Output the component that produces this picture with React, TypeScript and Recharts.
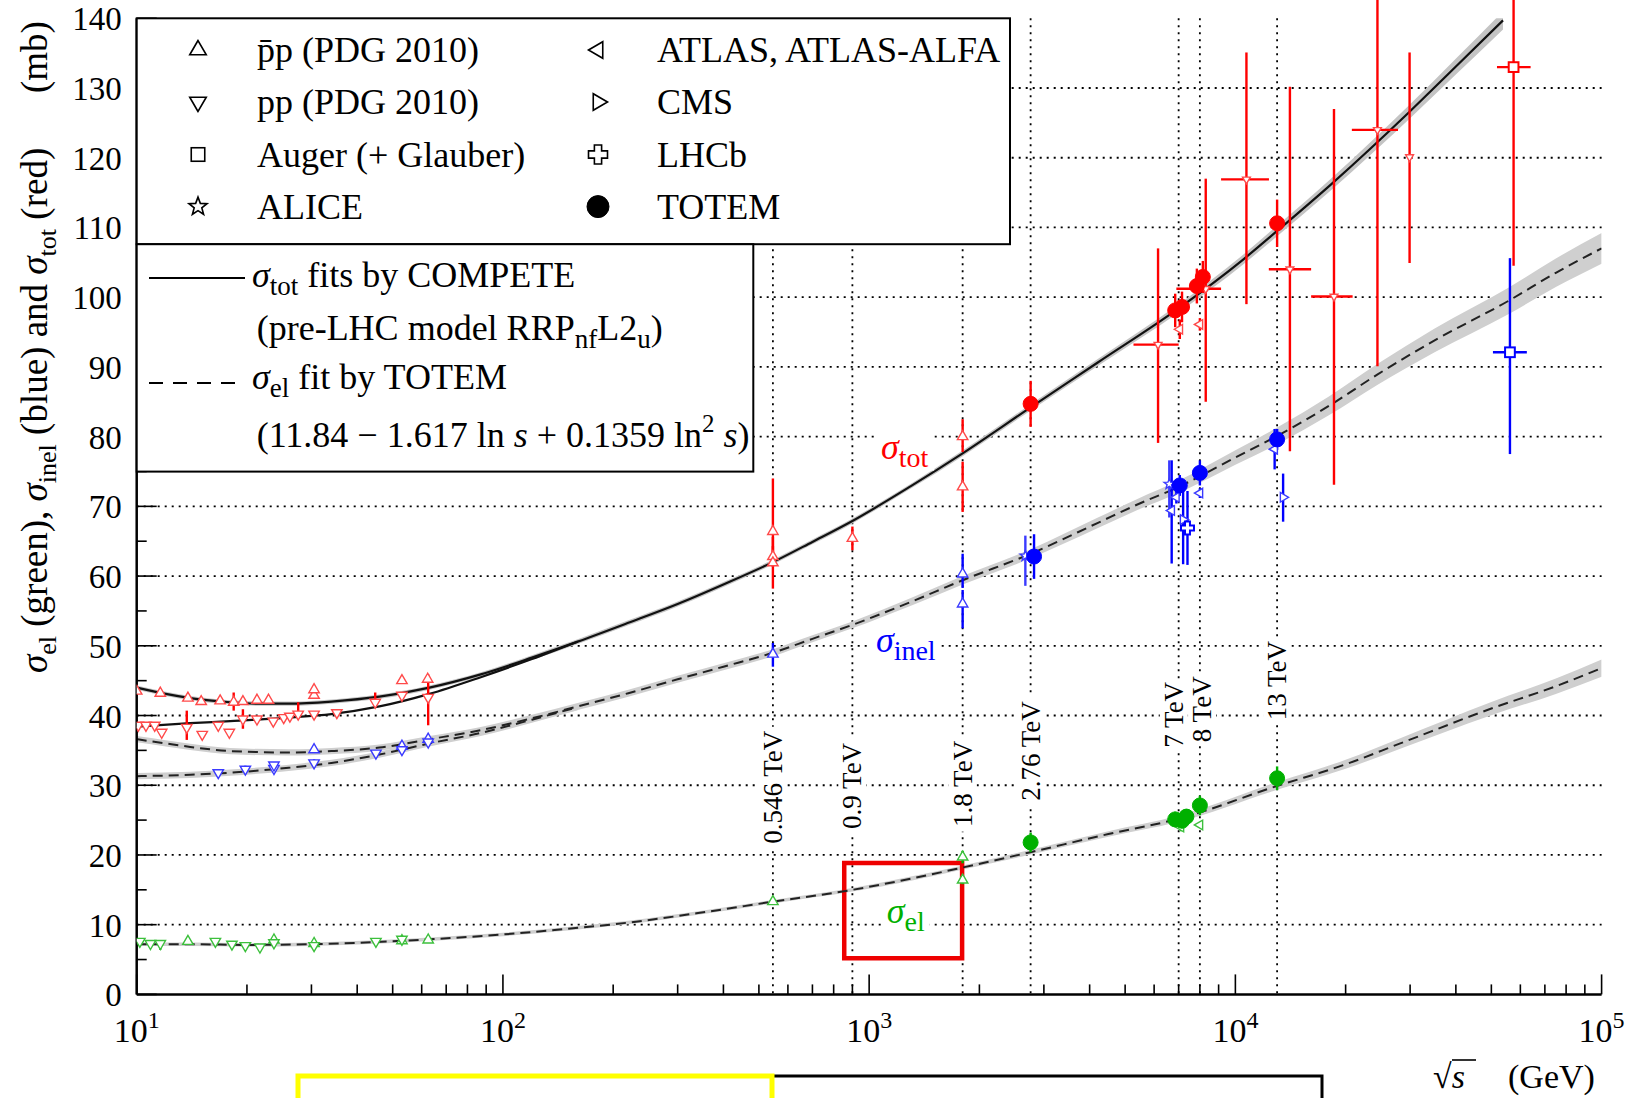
import React from "react";
import {
  ComposedChart, XAxis, YAxis, Line, Area, Scatter, ErrorBar,
  CartesianGrid, ReferenceDot, ReferenceArea,
} from "recharts";

const W = 1636;
const H = 1098;
const FONT = "'Liberation Serif','Times New Roman',serif";
const RED = "#ff0000";
const BLUE = "#0000ff";
const GREEN = "#00b000";
const PRED = "#ff4a4a";
const PBLUE = "#3a3aff";
const PGREEN = "#3cc03c";

// ---------- axes ----------
const xTicks = [10, 20, 30, 40, 50, 60, 70, 80, 90, 100, 200, 300, 400, 500, 600, 700, 800, 900,
  1000, 2000, 3000, 4000, 5000, 6000, 7000, 8000, 9000, 10000, 20000, 30000, 40000, 50000, 60000,
  70000, 80000, 90000, 100000];
const yTicks = [0, 5, 10, 15, 20, 25, 30, 35, 40, 45, 50, 55, 60, 65, 70, 75, 80, 85, 90, 95, 100,
  105, 110, 115, 120, 125, 130, 135, 140];
const gridY = [10, 20, 30, 40, 50, 60, 70, 80, 90, 100, 110, 120, 130];
const energyLines = [546, 900, 1800, 2760, 7000, 8000, 13000];

// ---------- fitted curves [sqrt(s) GeV, mb] ----------
const totPbarpCurve = [[10, 44.0], [12, 43.1], [14, 42.5], [18, 41.9], [22, 41.7], [26, 41.7], [34, 42.0],
  [46, 42.7], [63, 44.0], [87, 45.9], [120, 48.3], [160, 50.6], [220, 53.3], [300, 56.0], [400, 58.8],
  [546, 62.0], [700, 64.9], [900, 67.9], [1300, 72.9], [1800, 77.6], [2760, 84.2], [4200, 90.6],
  [7000, 98.4], [10500, 105.4], [13000, 109.5], [18450, 116.4], [29900, 126.6], [40600, 133.4],
  [53800, 139.7]];
const totBandHalf = [0.3, 0.3, 0.3, 0.3, 0.3, 0.3, 0.3, 0.3, 0.3, 0.3, 0.35, 0.35, 0.35, 0.35, 0.35,
  0.35, 0.35, 0.35, 0.35, 0.4, 0.45, 0.5, 0.6, 0.7, 0.75, 0.85, 1.0, 1.15, 1.3];
const totPpCurve = [[10, 38.4], [14, 38.9], [18, 39.2], [26, 39.7], [34, 40.2], [46, 41.3], [63, 43.1],
  [87, 45.5], [120, 48.1], [160, 50.6]];

const inelPbarpCurve = [[10, 36.6], [12, 36.0], [14, 35.5], [18, 34.9], [26, 34.7], [34, 34.9], [46, 35.4],
  [63, 36.6], [87, 37.9], [120, 39.6], [160, 41.3], [220, 43.2], [300, 45.2], [400, 47.0], [546, 49.0],
  [700, 51.0], [900, 53.0], [1300, 56.3], [1800, 59.4], [2760, 63.2], [4200, 67.6], [5420, 70.3],
  [7000, 72.8], [10000, 77.0], [13000, 80.1], [18000, 84.4], [24400, 88.9], [35000, 93.8],
  [55800, 99.5], [75000, 103.5], [100000, 107.0]];
const inelBandHalf = [0.45, 0.45, 0.45, 0.45, 0.45, 0.45, 0.45, 0.45, 0.45, 0.5, 0.5, 0.5, 0.5, 0.5, 0.5,
  0.5, 0.5, 0.55, 0.6, 0.65, 0.75, 0.8, 0.9, 1.05, 1.2, 1.35, 1.5, 1.7, 1.9, 2.05, 2.2];
const inelPpCurve = [[10, 31.3], [14, 31.5], [18, 31.8], [26, 32.5], [34, 33.2], [46, 34.4], [63, 36.0],
  [87, 37.5], [120, 39.4], [160, 41.2]];
const inelPpBandHalf = [0.45, 0.45, 0.45, 0.45, 0.45, 0.45, 0.45, 0.45, 0.45, 0.45];

const elCurve = [[10, 7.2], [14, 7.2], [20, 7.1], [30, 7.2], [45, 7.5], [63, 7.9], [100, 8.6], [150, 9.4],
  [220, 10.3], [345, 11.7], [546, 13.3], [900, 15.0], [1300, 16.6], [1800, 18.2], [2760, 20.4],
  [4500, 23.0], [7000, 25.2], [13000, 29.9], [20000, 33.0], [28200, 36.0], [50000, 41.0],
  [75000, 44.2], [100000, 46.8]];
const elBandHalf = [0.25, 0.25, 0.25, 0.25, 0.25, 0.25, 0.25, 0.25, 0.25, 0.25, 0.25, 0.25, 0.3, 0.3,
  0.35, 0.4, 0.45, 0.55, 0.65, 0.75, 0.95, 1.1, 1.25];

// ---------- measurements [x, y, errLow, errHigh, xErrLow, xErrHigh] ----------
const pbarpTot = [[10.0, 43.5], [11.6, 43.2], [13.8, 42.5], [15.0, 42.0], [16.9, 42.1], [18.4, 41.9, 1.2, 1.4],
  [19.5, 42.0], [21.3, 42.2], [22.9, 42.2], [30.5, 42.9], [30.5, 43.7], [53, 45.0], [62.3, 45.2],
  [546, 66.4, 4.0, 7.6], [546, 62.8, 1.5, 1.5], [546, 61.9, 3.7, 3.7], [900, 65.4, 1.7, 1.7],
  [1800, 80.0, 2.2, 2.5], [1800, 72.8, 3.6, 3.6]];
const ppTot = [[10.1, 38.6], [10.6, 38.6], [11.2, 38.6], [11.7, 37.6], [13.7, 38.3, 1.8, 2.4], [15.1, 37.3],
  [16.7, 38.6], [17.9, 37.6], [19.5, 39.5, 1.4, 1.4], [21.3, 39.5], [23.6, 39.2], [25.2, 39.7], [26.2, 39.9],
  [27.6, 40.2, 0.6, 1.7], [30.5, 40.2], [35.2, 40.4], [44.8, 41.9, 0.4, 1.4], [53, 42.9], [62.5, 42.6, 4.0, 3.3]];
const cosmicTot = [[6150, 93.2, 14.1, 13.8, 880, 850], [8300, 101.2, 16.2, 15.8, 1400, 840],
  [10720, 116.9, 17.9, 18.2, 1580, 1630], [14090, 104.0, 26.1, 26.2, 1750, 2010],
  [18590, 100.1, 27.0, 26.9, 2490, 2310], [24430, 124.0, 33.9, 20.0, 3630, 3370],
  [29900, 120.1, 15.2, 15.0, 0, 0]];
const pbarpInel = [[30.5, 35.1], [53, 35.6], [62.5, 36.6], [546, 48.8, 1.8, 1.6], [1800, 60.3, 2.0, 2.9],
  [1800, 56.0, 3.5, 2.0]];
const ppInel = [[16.7, 31.8], [19.8, 32.3, 0.5, 0.5], [23.7, 32.4, 0.6, 0.6], [23.7, 32.9],
  [30.5, 33.2, 0.5, 0.5], [45, 34.6], [53, 35.1], [62.5, 36.2]];
const pbarpEl = [[13.8, 7.6], [23.7, 7.8], [30.5, 7.3], [53, 7.7], [62.5, 7.8], [546, 13.3, 0.3, 0.3],
  [1800, 19.7, 0.9, 0.9], [1800, 16.4, 0.6, 0.6]];
const ppEl = [[10.2, 7.6], [10.9, 7.3], [11.6, 7.3, 0.9, 0.3], [16.4, 7.6], [18.2, 7.2], [19.8, 7.0],
  [21.7, 6.8], [23.7, 7.4], [30.5, 7.0], [45, 7.6], [53, 7.9]];
const augerTot = [[57500, 133.0, 28.5, 10, 5700, 6500]];
const augerInel = [[56200, 92.1, 14.6, 13.5, 5700, 6300]];
const aliceInel = [[2670, 62.9, 4.3, 2.9], [6600, 73.2, 4.8, 3.4]];
const atlasTot = [[7050, 95.4, 1.4, 1.4], [8000, 96.1, 0.9, 0.9]];
const atlasInel = [[6700, 69.4, 7.6, 7.2], [6900, 71.3, 0.9, 0.9], [8000, 71.9, 0.7, 0.7], [12800, 78.2, 2.9, 2.9]];
const atlasEl = [[7100, 24.0, 0.6, 0.6], [8000, 24.3, 0.4, 0.4]];
const cmsInel = [[7200, 68.1, 6.4, 4.2], [13500, 71.3, 3.5, 3.4]];
const lhcbInel = [[7400, 66.9, 5.3, 5.3]];
const totemTot = [[2760, 84.7, 3.3, 3.3], [6850, 98.1, 2.4, 2.4], [7150, 98.6, 2.2, 2.2],
  [7850, 101.6, 2.5, 2.5], [8150, 102.9, 2.3, 2.3], [13000, 110.6, 3.4, 3.4]];
const totemInel = [[2820, 62.8, 3.2, 3.2], [7050, 73.0, 1.5, 1.5], [8000, 74.8, 1.8, 1.8], [13000, 79.6, 1.5, 1.5]];
const totemEl = [[2760, 21.8, 1.4, 1.4], [6850, 25.1, 1.1, 1.1], [7150, 24.9, 1.0, 1.0],
  [7350, 25.5, 1.1, 1.1], [8000, 27.1, 1.4, 1.4], [13000, 31.0, 1.7, 1.7]];

// ---------- annotations (data-space anchors) ----------
const energyLabels = [
  { x: 546, y: 29.7, text: "0.546 TeV" },
  { x: 900, y: 29.9, text: "0.9 TeV" },
  { x: 1800, y: 30.2, text: "1.8 TeV" },
  { x: 2760, y: 34.9, text: "2.76 TeV" },
  { x: 6790, y: 40.1, text: "7 TeV" },
  { x: 8110, y: 40.9, text: "8 TeV" },
  { x: 13000, y: 45.0, text: "13 TeV" },
];
const sigmaLabels = [
  { x: 1250, y: 78.0, sub: "tot", color: RED },
  { x: 1259, y: 50.3, sub: "inel", color: BLUE },
  { x: 1259, y: 11.4, sub: "el", color: GREEN },
];
const highlightBox = { x1: 855, x2: 1794, y1: 5.2, y2: 18.85 };

// ---------- builders ----------
const toCurve = (a: number[][]) => a.map(([x, y]) => ({ x, y }));
const toBand = (a: number[][], hw: number[]) => a.map(([x, y], i) => ({ x, band: [y - hw[i], y + hw[i]] }));
const toPts = (a: number[][]) =>
  a.map(([x, y, lo = 0, hi = lo, xlo = 0, xhi = xlo]) => ({ x, y, ey: [lo, hi], ex: [xlo, xhi] }));

function Mark({ kind, cx, cy, s, color, sw = 1.4, fill = "#fff" }: any) {
  if (cx == null || cy == null || isNaN(cx) || isNaN(cy)) return null;
  const c = { stroke: color, strokeWidth: sw, fill };
  const pts = (arr: number[][]) => arr.map(([a, b]) => `${cx + a},${cy + b}`).join(" ");
  switch (kind) {
    case "up":
      return <polygon points={pts([[0, -s], [-0.87 * s, 0.5 * s], [0.87 * s, 0.5 * s]])} {...c} />;
    case "down":
      return <polygon points={pts([[0, s], [-0.87 * s, -0.5 * s], [0.87 * s, -0.5 * s]])} {...c} />;
    case "left":
      return <polygon points={pts([[-s, 0], [0.5 * s, -0.87 * s], [0.5 * s, 0.87 * s]])} {...c} />;
    case "right":
      return <polygon points={pts([[s, 0], [-0.5 * s, -0.87 * s], [-0.5 * s, 0.87 * s]])} {...c} />;
    case "square":
      return <rect x={cx - 0.75 * s} y={cy - 0.75 * s} width={1.5 * s} height={1.5 * s} {...c} />;
    case "star": {
      const arr: number[][] = [];
      for (let i = 0; i < 10; i++) {
        const r = i % 2 === 0 ? s : s * 0.42;
        const a = -Math.PI / 2 + (i * Math.PI) / 5;
        arr.push([r * Math.cos(a), r * Math.sin(a)]);
      }
      return <polygon points={pts(arr)} {...c} />;
    }
    case "cross": {
      const w = s * 0.38;
      return <polygon points={pts([[-w, -s], [w, -s], [w, -w], [s, -w], [s, w], [w, w], [w, s], [-w, s], [-w, w], [-s, w], [-s, -w], [-w, -w]])} {...c} />;
    }
    case "circle":
      return <circle cx={cx} cy={cy} r={s} fill={color} stroke={color} strokeWidth={1} />;
    default:
      return null;
  }
}

const isDecade = (v: number) => Math.abs(Math.log10(v) - Math.round(Math.log10(v))) < 1e-6;

function BottomTick(props: any) {
  const { x, y, payload } = props;
  const v = payload.value;
  const major = isDecade(v);
  return (
    <g>
      <line x1={x} x2={x} y1={y} y2={y - (major ? 20 : 10)} stroke="#000" strokeWidth={1.6} />
      {major && (
        <text x={x} y={y + 48} textAnchor="middle" fontFamily={FONT} fontSize={34} fill="#000">
          10<tspan fontSize={24} dy={-14}>{Math.round(Math.log10(v))}</tspan>
        </text>
      )}
    </g>
  );
}
function TopTick(props: any) {
  const { x, y, payload } = props;
  const major = isDecade(payload.value);
  return <line x1={x} x2={x} y1={y} y2={y + (major ? 20 : 10)} stroke="#000" strokeWidth={1.6} />;
}
function LeftTick(props: any) {
  const { x, y, payload } = props;
  const v = payload.value;
  const major = v % 10 === 0;
  return (
    <g>
      <line x1={x} x2={x + (major ? 20 : 10)} y1={y} y2={y} stroke="#000" strokeWidth={1.6} />
      {major && (
        <text x={x - 15} y={y + 12} textAnchor="end" fontFamily={FONT} fontSize={33} fill="#000">{v}</text>
      )}
    </g>
  );
}
function RightTick(props: any) {
  const { x, y, payload } = props;
  const major = payload.value % 10 === 0;
  return <line x1={x} x2={x - (major ? 20 : 10)} y1={y} y2={y} stroke="#000" strokeWidth={1.6} />;
}

const rotLabel = (text: string) => (p: any) => {
  const { cx, cy } = p;
  const len = text.length * 12.8;
  return (
    <g>
      <rect x={cx - 14} y={cy - len / 2 - 3} width={28} height={len + 6} fill="#fff" />
      <text transform={`translate(${cx + 9},${cy}) rotate(-90)`} textAnchor="middle" fontFamily={FONT} fontSize={27} fill="#000">
        {text}
      </text>
    </g>
  );
};
const sigmaLabel = (sub: string, color: string) => (p: any) => {
  const { cx, cy } = p;
  const w = 20 + sub.length * 11;
  return (
    <g>
      <rect x={cx - w / 2 - 3} y={cy - 18} width={w + 6} height={38} fill="#fff" />
      <text x={cx} y={cy + 8} textAnchor="middle" fontFamily={FONT} fill={color}>
        <tspan fontStyle="italic" fontSize={36}>σ</tspan>
        <tspan fontSize={28} dy={8}>{sub}</tspan>
      </text>
    </g>
  );
};

function series(key: string, raw: number[][], kind: string, color: string, s: number, opts: any = {}) {
  const data = toPts(raw);
  const ebColor = opts.ebColor || color;
  return (
    <Scatter
      key={key}
      data={data}
      dataKey="y"
      isAnimationActive={false}
      shape={(p: any) => <Mark kind={kind} cx={p.cx} cy={p.cy} s={s} color={color} sw={opts.sw ?? 1.4} />}
    >
      <ErrorBar dataKey="ey" direction="y" width={0} stroke={ebColor} strokeWidth={opts.ew ?? 2.4} isAnimationActive={false} />
      {opts.xerr && (
        <ErrorBar dataKey="ex" direction="x" width={0} stroke={ebColor} strokeWidth={opts.ew ?? 2.4} isAnimationActive={false} />
      )}
    </Scatter>
  );
}

function Legends() {
  const rows = [
    ["up", "p\u0304p (PDG 2010)", "left", "ATLAS, ATLAS-ALFA"],
    ["down", "pp (PDG 2010)", "right", "CMS"],
    ["square", "Auger (+ Glauber)", "cross", "LHCb"],
    ["star", "ALICE", "circle", "TOTEM"],
  ];
  const rowY = [50, 102, 154.5, 206.6];
  const txt = { fontFamily: FONT, fontSize: 36, fill: "#000" } as any;
  return (
    <svg width={W} height={H} style={{ position: "absolute", left: 0, top: 0, pointerEvents: "none" }}>
      {/* marker legend */}
      <rect x={136.7} y={18.3} width={873.3} height={225.9} fill="#fff" stroke="#000" strokeWidth={2} />
      {rows.map((r, i) => (
        <g key={i}>
          <Mark kind={r[0]} cx={198} cy={rowY[i]} s={r[0] === "square" ? 9 : 9.5} color="#000" sw={1.6} />
          <text x={257} y={rowY[i] + 12} {...txt}>{r[1]}</text>
          <Mark kind={r[2]} cx={598} cy={rowY[i]} s={r[2] === "circle" ? 11 : 9.5} color="#000" sw={1.6} />
          <text x={657} y={rowY[i] + 12} {...txt}>{r[3]}</text>
        </g>
      ))}
      {/* line legend */}
      <rect x={136.7} y={244.2} width={616.6} height={227.4} fill="#fff" stroke="#000" strokeWidth={2} />
      <line x1={149} x2={245} y1={278} y2={278} stroke="#000" strokeWidth={2} />
      <line x1={149} x2={245} y1={383} y2={383} stroke="#000" strokeWidth={2} strokeDasharray="14 10" />
      <text x={252} y={287} {...txt}>
        <tspan fontStyle="italic">σ</tspan><tspan fontSize={27} dy={8}>tot</tspan><tspan dy={-8}> fits by COMPETE</tspan>
      </text>
      <text x={256.7} y={340} {...txt}>
        (pre-LHC model RRP<tspan fontSize={27} dy={8}>nf</tspan><tspan dy={-8}>L2</tspan><tspan fontSize={27} dy={8}>u</tspan><tspan dy={-8}>)</tspan>
      </text>
      <text x={252} y={389} {...txt}>
        <tspan fontStyle="italic">σ</tspan><tspan fontSize={27} dy={8}>el</tspan><tspan dy={-8}> fit by TOTEM</tspan>
      </text>
      <text x={256.7} y={447} {...txt}>
        (11.84 − 1.617 ln <tspan fontStyle="italic">s</tspan> + 0.1359 ln<tspan fontSize={25} dy={-15}>2</tspan><tspan dy={15}> </tspan><tspan fontStyle="italic">s</tspan>)
      </text>

      {/* y axis title */}
      <text transform="translate(47,673) rotate(-90)" fontFamily={FONT} fontSize={37} fill="#000">
        <tspan fontStyle="italic">σ</tspan><tspan fontSize={26} dy={9}>el</tspan>
        <tspan dy={-9}> (green), </tspan>
        <tspan fontStyle="italic">σ</tspan><tspan fontSize={26} dy={9}>inel</tspan>
        <tspan dy={-9}> (blue) and </tspan>
        <tspan fontStyle="italic">σ</tspan><tspan fontSize={26} dy={9}>tot</tspan>
        <tspan dy={-9}> (red)</tspan>
      </text>
      <text transform="translate(47,93) rotate(-90)" fontFamily={FONT} fontSize={37} fill="#000">(mb)</text>

      {/* x axis title */}
      <text x={1433} y={1088} fontFamily={FONT} fontSize={34} fill="#000">
        √<tspan fontStyle="italic">s</tspan>
      </text>
      <line x1={1452} x2={1476} y1={1060} y2={1060} stroke="#000" strokeWidth={1.6} />
      <text x={1508} y={1088} fontFamily={FONT} fontSize={34} fill="#000">(GeV)</text>

      {/* cropped boxes at the bottom edge */}
      <path d="M772,1076 H1322 V1110" fill="none" stroke="#000" strokeWidth={3} />
      <rect x={298} y={1076} width={474} height={60} fill="none" stroke="#ffff00" strokeWidth={5} />
    </svg>
  );
}

export default function App() {
  const curveLine = { isAnimationActive: false, dot: false, activeDot: false, type: "monotone" as const, dataKey: "y" };
  return (
    <div style={{ position: "absolute", left: 0, top: 0, width: W, height: H, background: "#fff", overflow: "hidden" }}>
      <ComposedChart width={W} height={H} margin={{ top: 18.3, right: 34.4, bottom: 43.6, left: 56.7 }}>
        <CartesianGrid horizontalValues={gridY} verticalValues={energyLines} stroke="#000"
          strokeDasharray="2 5" strokeWidth={1.8} />
        <XAxis dataKey="x" type="number" scale="log" domain={[10, 100000]} allowDataOverflow ticks={xTicks}
          interval={0} tick={BottomTick} tickLine={false} tickSize={0} tickMargin={0}
          axisLine={{ stroke: "#000", strokeWidth: 2.5 }} height={60} />
        <XAxis xAxisId="t" orientation="top" dataKey="x" type="number" scale="log" domain={[10, 100000]}
          allowDataOverflow ticks={xTicks} interval={0} tick={TopTick} tickLine={false} tickSize={0}
          tickMargin={0} axisLine={{ stroke: "#000", strokeWidth: 2.5 }} height={0} />
        <YAxis dataKey="y" type="number" domain={[0, 140]} allowDataOverflow ticks={yTicks} interval={0}
          tick={LeftTick} tickLine={false} tickSize={0} tickMargin={0}
          axisLine={{ stroke: "#000", strokeWidth: 2.5 }} width={80} />
        <YAxis yAxisId="r" orientation="right" type="number" domain={[0, 140]} allowDataOverflow ticks={yTicks}
          interval={0} tick={RightTick} tickLine={false} tickSize={0} tickMargin={0}
          axisLine={{ stroke: "#000", strokeWidth: 2.5 }} width={0} />

        {/* uncertainty bands */}
        <Area data={toBand(totPbarpCurve, totBandHalf)} dataKey="band" type="monotone" stroke="none" fill="#c4c4c4" fillOpacity={1} isAnimationActive={false} activeDot={false} />
        <Area data={toBand(inelPbarpCurve, inelBandHalf)} dataKey="band" type="monotone" stroke="none" fill="#cfcfcf" fillOpacity={1} isAnimationActive={false} activeDot={false} />
        <Area data={toBand(inelPpCurve, inelPpBandHalf)} dataKey="band" type="monotone" stroke="none" fill="#cfcfcf" fillOpacity={1} isAnimationActive={false} activeDot={false} />
        <Area data={toBand(elCurve, elBandHalf)} dataKey="band" type="monotone" stroke="none" fill="#cfcfcf" fillOpacity={1} isAnimationActive={false} activeDot={false} />

        {/* fit curves */}
        <Line data={toCurve(totPbarpCurve)} {...curveLine} stroke="#111" strokeWidth={2.2} />
        <Line data={toCurve(totPpCurve)} {...curveLine} stroke="#111" strokeWidth={2.2} />
        <Line data={toCurve(inelPbarpCurve)} {...curveLine} stroke="#222" strokeWidth={2} strokeDasharray="10 6" />
        <Line data={toCurve(inelPpCurve)} {...curveLine} stroke="#222" strokeWidth={2} strokeDasharray="10 6" />
        <Line data={toCurve(elCurve)} {...curveLine} stroke="#222" strokeWidth={2} strokeDasharray="10 6" />

        {/* measurements */}
        {series("pbarpTot", pbarpTot, "up", PRED, 6, { ebColor: RED })}
        {series("ppTot", ppTot, "down", PRED, 6, { ebColor: RED })}
        {series("cosmicTot", cosmicTot, "down", PRED, 4.5, { ebColor: RED, xerr: true })}
        {series("pbarpInel", pbarpInel, "up", PBLUE, 6, { ebColor: BLUE })}
        {series("ppInel", ppInel, "down", PBLUE, 6, { ebColor: BLUE })}
        {series("pbarpEl", pbarpEl, "up", PGREEN, 6, { ebColor: GREEN })}
        {series("ppEl", ppEl, "down", PGREEN, 6, { ebColor: GREEN })}
        {series("augerTot", augerTot, "square", RED, 6.5, { xerr: true, sw: 2 })}
        {series("augerInel", augerInel, "square", BLUE, 6.5, { xerr: true, sw: 2 })}
        {series("aliceInel", aliceInel, "star", PBLUE, 5.5)}
        {series("atlasTot", atlasTot, "left", PRED, 5.5, { ebColor: RED })}
        {series("atlasInel", atlasInel, "left", PBLUE, 5.5, { ebColor: BLUE })}
        {series("atlasEl", atlasEl, "left", PGREEN, 5.5, { ebColor: GREEN })}
        {series("cmsInel", cmsInel, "right", PBLUE, 5.5, { ebColor: BLUE })}
        {series("lhcbInel", lhcbInel, "cross", BLUE, 6.5, { sw: 2 })}
        {series("totemTot", totemTot, "circle", RED, 7.5)}
        {series("totemInel", totemInel, "circle", BLUE, 7.5)}
        {series("totemEl", totemEl, "circle", GREEN, 7.5)}

        {/* annotations */}
        {energyLabels.map((l) => (
          <ReferenceDot key={l.text} x={l.x} y={l.y} r={0} shape={rotLabel(l.text)} />
        ))}
        {sigmaLabels.map((l) => (
          <ReferenceDot key={l.sub} x={l.x} y={l.y} r={0} shape={sigmaLabel(l.sub, l.color)} />
        ))}
        <ReferenceArea x1={highlightBox.x1} x2={highlightBox.x2} y1={highlightBox.y1} y2={highlightBox.y2}
          fill="none" fillOpacity={0} stroke="#ee0000" strokeWidth={4.5} />
      </ComposedChart>
      <Legends />
    </div>
  );
}
